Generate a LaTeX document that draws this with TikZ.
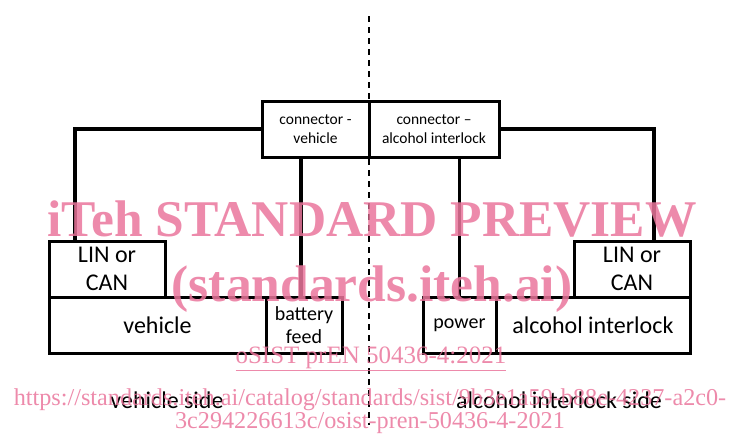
\documentclass[tikz,border=0pt]{standalone}
\usepackage{fontspec}
\setmainfont{Carlito}
\newfontfamily\wmfont{Liberation Serif}
\usetikzlibrary{calc}

\definecolor{wmpink}{RGB}{234,118,156}

\tikzset{
  box/.style={draw, line width=3pt, inner sep=0pt, align=center,
    font=\fontsize{24}{27.5}\selectfont},
  smallbox/.style={box, font=\fontsize{15.5}{18.5}\selectfont},
  midbox/.style={box, font=\fontsize{20}{23.5}\selectfont},
  wire/.style={line width=3.2pt, line join=miter},
  wmark/.style={text=wmpink, text opacity=0.85, align=center}
}

\begin{document}
\begin{tikzpicture}[x=1pt, y=-1pt]

  \useasboundingbox (0,0) rectangle (734,437);

  % Border between the two sides
  \draw[line width=1.7pt, dash pattern=on 6pt off 5pt] (369,16) -- (369,425);

  % Connectors
  \node[smallbox, minimum width=107pt, minimum height=56pt] (cv) at (315.5,129) {connector -\\vehicle};
  \node[smallbox, minimum width=130pt, minimum height=56pt] (ca) at (434,129) {connector --\\alcohol interlock};

  % Vehicle side
  \node[box, minimum width=116pt, minimum height=56pt] (linv) at (107,269) {LIN or\\CAN};
  \node[box, minimum width=217pt, minimum height=56pt] (veh) at (157.5,325) {vehicle};
  \node[midbox, minimum width=76pt, minimum height=56pt] (bf) at (304,325) {battery\\feed};
  \node[font=\fontsize{24}{27.5}\selectfont] (vside) at (167,400) {vehicle side};

  % Alcohol interlock side
  \node[box, minimum width=116pt, minimum height=56pt] (lina) at (632,269) {LIN or\\CAN};
  \node[midbox, minimum width=73pt, minimum height=56pt] (pw) at (459.5,325) {power};
  \node[box, minimum width=194pt, minimum height=56pt] (ai) at (593,325) {alcohol interlock};
  \node[font=\fontsize{24}{27.5}\selectfont] (aside) at (559,400) {alcohol interlock side};

  % Wires
  \coordinate (wl) at (75,241);
  \coordinate (wb) at (301,297);
  \coordinate (wr) at (654,241);
  \draw[wire] (cv.west) -| (wl);
  \draw[wire] (wb) -- (wb |- cv.south);
  \draw[wire] (pw.north) -- (pw.north |- ca.south);
  \draw[wire] (ca.east) -| (wr);

  % Watermark
  \node[wmark, font=\wmfont\bfseries\fontsize{51.5}{65}\selectfont] (wm1) at (372,257) {iTeh STANDARD PREVIEW\\(standards.iteh.ai)};
  \node[wmark, font=\wmfont\fontsize{25}{23}\selectfont] (wm2) at (371,359) {\underline{oSIST prEN 50436-4:2021}};
  \node[wmark, font=\wmfont\fontsize{24.2}{23}\selectfont] (wm3) at (370,411) {https://standards.iteh.ai/catalog/standards/sist/9b3e1a59-b88e-4237-a2c0-\\3c294226613c/osist-pren-50436-4-2021};

\end{tikzpicture}
\end{document}
